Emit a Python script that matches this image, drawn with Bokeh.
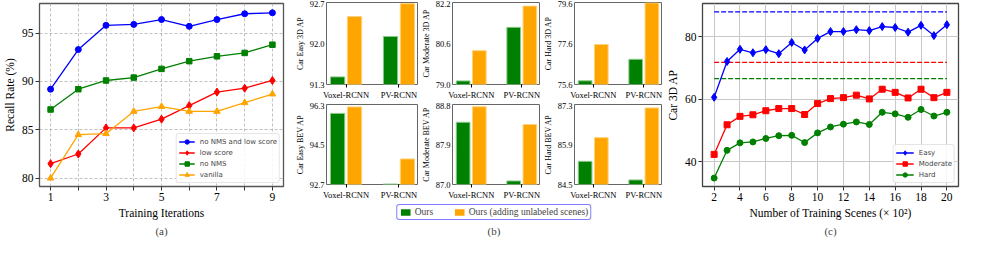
from bokeh.plotting import figure
from bokeh.layouts import row, column
from bokeh.models import (Range1d, FixedTicker, PrintfTickFormatter, ColumnDataSource,
                          Legend, LegendItem)
from bokeh.transform import dodge
from bokeh.embed import file_html
from bokeh.resources import INLINE

SERIF = "Liberation Serif"
SANS = "DejaVu Sans"
BLUE, RED, GREEN, ORANGE = "#0000ff", "#ff0000", "#008000", "#ffa500"
GREEN_EDGE, ORANGE_EDGE = "#8cc98c", "#ffd27a"

# ---------------- (a) recall rate vs training iterations ----------------
iterations = [1, 2, 3, 4, 5, 6, 7, 8, 9]
a_x_ticks = [1, 2, 3, 4, 5, 6, 7, 8, 9]
a_x_labels = ["1", "", "3", "", "5", "", "7", "", "9"]
a_y_ticks = [80, 85, 90, 95]
recall_nms_low = [89.2, 93.3, 95.8, 95.9, 96.4, 95.7, 96.4, 97.0, 97.1]
recall_low_score = [81.5, 82.5, 85.2, 85.2, 86.1, 87.5, 88.9, 89.3, 90.1]
recall_no_nms = [87.1, 89.2, 90.1, 90.4, 91.3, 92.1, 92.6, 92.95, 93.8]
recall_vanilla = [80.0, 84.5, 84.6, 86.9, 87.4, 86.9, 86.9, 87.8, 88.7]

# ---------------- (b) bar panels ----------------
models = ["Voxel-RCNN", "PV-RCNN"]
easy3d_ours, easy3d_unl = [91.43, 92.12], [92.46, 92.68]
mod3d_ours, mod3d_unl = [79.14, 81.23], [80.32, 82.06]
hard3d_ours, hard3d_unl = [75.78, 76.83], [77.55, 79.58]
easybev_ours, easybev_unl = [95.90, 92.72], [96.19, 93.85]
modbev_ours, modbev_unl = [88.40, 87.08], [88.75, 88.35]
hardbev_ours, hardbev_unl = [85.31, 84.66], [86.14, 87.18]
easy3d_ticks = [91.3, 92.0, 92.7]
mod3d_ticks = [79.0, 80.6, 82.2]
hard3d_ticks = [75.6, 77.6, 79.6]
easybev_ticks = [92.7, 94.5, 96.3]
modbev_ticks = [87.0, 87.9, 88.8]
hardbev_ticks = [84.5, 85.9, 87.3]
b_labels = ["Car Easy 3D AP", "Car Moderate 3D AP", "Car Hard 3D AP",
            "Car Easy BEV AP", "Car Moderate BEV AP", "Car Hard BEV AP"]
legend_b = ["Ours", "Ours (adding unlabeled scenes)"]

# ---------------- (c) AP vs number of training scenes ----------------
scenes = [2, 3, 4, 5, 6, 7, 8, 9, 10, 11, 12, 13, 14, 15, 16, 17, 18, 19, 20]
c_x_ticks = [2, 4, 6, 8, 10, 12, 14, 16, 18, 20]
c_y_ticks = [40, 60, 80]
ap_easy = [60.6, 72.1, 76.0, 74.9, 75.9, 74.6, 78.2, 75.8, 79.5, 81.7, 81.7, 82.3, 82.0,
           83.3, 83.0, 81.5, 83.7, 80.4, 83.9]
ap_moderate = [42.3, 51.8, 54.5, 55.0, 56.3, 57.0, 57.0, 55.1, 58.6, 60.2, 60.5, 61.3, 60.1,
               63.2, 62.2, 60.4, 63.2, 60.5, 62.2]
ap_hard = [34.7, 43.6, 46.0, 46.3, 47.4, 48.3, 48.4, 46.1, 49.2, 51.1, 52.0, 52.7, 51.9,
           55.8, 55.3, 54.2, 56.7, 54.6, 55.8]
full_easy, full_moderate, full_hard = 88.0, 71.8, 66.6


def style_axes(p, tick_size, label_size, tick_out=4):
    for ax in p.axis:
        ax.major_label_text_font = SERIF
        ax.major_label_text_font_size = tick_size
        ax.major_label_text_color = "black"
        ax.axis_label_text_font = SERIF
        ax.axis_label_text_font_size = label_size
        ax.axis_label_text_font_style = "normal"
        ax.axis_label_text_color = "black"
        ax.axis_line_color = None
        ax.major_tick_in = 0
        ax.major_tick_out = tick_out
        ax.major_tick_line_color = "#333333"
        ax.minor_tick_line_color = None
        ax.major_label_standoff = 2
        ax.axis_label_standoff = 3


def style_title(p, size="11px"):
    p.title.align = "center"
    p.title.text_font = SERIF
    p.title.text_font_size = size
    p.title.text_font_style = "normal"
    if "standoff" in p.title.properties():
        p.title.standoff = 2


def style_legend(leg, size="7px"):
    leg.label_text_font = SANS
    leg.label_text_font_size = size
    leg.glyph_width = 16
    leg.glyph_height = 11
    leg.label_height = 11
    leg.label_standoff = 5
    leg.spacing = 0
    leg.padding = 2
    leg.margin = 3
    leg.border_line_color = "#cccccc"
    leg.background_fill_alpha = 0.85
    if "border_radius" in leg.properties():
        leg.border_radius = 3


# ---------------- panel (a) ----------------
pa = figure(width=292, height=237, title="(a)", title_location="below",
            x_range=Range1d(0.6, 9.4), y_range=Range1d(79.14, 98.06),
            output_backend="svg", toolbar_location=None,
            min_border_left=36, min_border_right=9, min_border_top=3, min_border_bottom=49)
series_a = [(recall_nms_low, BLUE, "circle", 6, "no NMS and low score"),
            (recall_low_score, RED, "diamond", 8, "low score"),
            (recall_no_nms, GREEN, "square", 5.5, "no NMS"),
            (recall_vanilla, ORANGE, "triangle", 6.5, "vanilla")]
for ys, c, m, s, lab in series_a:
    pa.line(iterations, ys, line_color=c, line_width=1.3, legend_label=lab)
    pa.scatter(iterations, ys, marker=m, size=s, fill_color=c, line_color=c, legend_label=lab)
xt = FixedTicker(ticks=a_x_ticks)
pa.xaxis.ticker = xt
pa.xgrid[0].ticker = xt
pa.xaxis.major_label_overrides = {t: l for t, l in zip(a_x_ticks, a_x_labels)}
yt = FixedTicker(ticks=a_y_ticks)
pa.yaxis.ticker = yt
pa.ygrid[0].ticker = yt
pa.xaxis.axis_label = "Training Iterations"
pa.yaxis.axis_label = "Recall Rate (%)"
style_axes(pa, "11.5px", "11.5px")
style_title(pa)
pa.grid.grid_line_color = "#b0b0b0"
pa.grid.grid_line_dash = "3 2"
pa.grid.grid_line_width = 0.8
pa.outline_line_color = "#555555"
pa.outline_line_width = 1.3
style_legend(pa.legend[0])
pa.legend[0].location = "bottom_right"

# ---------------- panel (b) ----------------
b_widths = [126, 122, 122]
b_lefts = [34, 30, 30]
b_data = [(easy3d_ours, easy3d_unl, easy3d_ticks), (mod3d_ours, mod3d_unl, mod3d_ticks),
          (hard3d_ours, hard3d_unl, hard3d_ticks), (easybev_ours, easybev_unl, easybev_ticks),
          (modbev_ours, modbev_unl, modbev_ticks), (hardbev_ours, hardbev_unl, hardbev_ticks)]
xpos = list(range(len(models)))
b_figs = []
for i, (ours, unl, ticks) in enumerate(b_data):
    col, rw = i % 3, i // 3
    h = 102 if rw == 0 else 100
    bb = 18 if rw == 0 else 16
    p = figure(width=b_widths[col], height=h,
               x_range=Range1d(-0.37, 1.35), y_range=Range1d(ticks[0], ticks[-1]),
               output_backend="svg", toolbar_location=None,
               min_border_left=b_lefts[col], min_border_right=1, min_border_top=2,
               min_border_bottom=bb)
    src = ColumnDataSource(dict(x=xpos, ours=ours, unl=unl))
    p.vbar(x=dodge("x", -0.16), top="ours", bottom=0, width=0.27, source=src,
           fill_color=GREEN, line_color=GREEN_EDGE, line_width=1)
    p.vbar(x=dodge("x", 0.16), top="unl", bottom=0, width=0.27, source=src,
           fill_color=ORANGE, line_color=ORANGE_EDGE, line_width=1)
    p.xaxis.ticker = FixedTicker(ticks=xpos)
    p.xaxis.major_label_overrides = {k: m for k, m in zip(xpos, models)}
    p.yaxis.ticker = FixedTicker(ticks=ticks)
    p.yaxis.formatter = PrintfTickFormatter(format="%.1f")
    p.yaxis.axis_label = b_labels[i]
    style_axes(p, "8.5px", "8px", tick_out=3)
    p.yaxis.major_tick_out = 0
    p.xaxis.major_tick_line_color = "black"
    p.yaxis.axis_label_standoff = 2
    p.grid.visible = False
    p.outline_line_color = "#666666"
    p.outline_line_width = 1
    b_figs.append(p)

pl = figure(width=370, height=35, title="(b)", title_location="below",
            x_range=Range1d(0, 1), y_range=Range1d(0, 1),
            x_axis_type=None, y_axis_type=None,
            output_backend="svg", toolbar_location=None,
            min_border_left=34, min_border_right=1, min_border_top=0, min_border_bottom=0)
pl.grid.visible = False
pl.outline_line_color = None
leg_src = ColumnDataSource(dict(x=xpos, ours=easy3d_ours, unl=easy3d_unl))
r_ours = pl.vbar(x="x", top="ours", bottom="ours", width=0.0, source=leg_src,
                 fill_color=GREEN, line_color=GREEN_EDGE, line_alpha=0)
r_unl = pl.vbar(x="x", top="unl", bottom="unl", width=0.0, source=leg_src,
                fill_color=ORANGE, line_color=ORANGE_EDGE, line_alpha=0)
leg_b = Legend(items=[LegendItem(label=legend_b[0], renderers=[r_ours], index=0),
                      LegendItem(label=legend_b[1], renderers=[r_unl], index=0)],
               orientation="horizontal", location="center")
leg_b.label_text_font = SERIF
leg_b.label_text_font_size = "9.5px"
leg_b.glyph_width = 12
leg_b.glyph_height = 8
leg_b.label_height = 9
leg_b.label_standoff = 4
leg_b.spacing = 18
leg_b.padding = 2
leg_b.margin = 0
leg_b.border_line_color = BLUE
leg_b.border_line_width = 1
if "border_radius" in leg_b.properties():
    leg_b.border_radius = 3
pl.add_layout(leg_b, "center")
style_title(pl)

panel_b = column(row(*b_figs[:3]), row(*b_figs[3:]), pl)

# ---------------- panel (c) ----------------
pc = figure(width=303, height=237, title="(c)", title_location="below",
            x_range=Range1d(1.1, 20.9), y_range=Range1d(32.0, 90.7),
            output_backend="svg", toolbar_location=None,
            min_border_left=40, min_border_right=7, min_border_top=3, min_border_bottom=49)
for full, c in [(full_easy, BLUE), (full_moderate, RED), (full_hard, GREEN)]:
    pc.segment(x0=[scenes[0]], y0=[full], x1=[scenes[-1]], y1=[full],
               line_color=c, line_width=1.3, line_dash="5 2")
series_c = [(ap_easy, BLUE, "diamond", 8, "Easy"),
            (ap_moderate, RED, "square", 6, "Moderate"),
            (ap_hard, GREEN, "circle", 6, "Hard")]
for ys, c, m, s, lab in series_c:
    pc.line(scenes, ys, line_color=c, line_width=1.3, legend_label=lab)
    pc.scatter(scenes, ys, marker=m, size=s, fill_color=c, line_color=c, legend_label=lab)
cxt = FixedTicker(ticks=c_x_ticks)
pc.xaxis.ticker = cxt
pc.xgrid[0].ticker = cxt
cyt = FixedTicker(ticks=c_y_ticks)
pc.yaxis.ticker = cyt
pc.ygrid[0].ticker = cyt
pc.xaxis.axis_label = "Number of Training Scenes (\u00d7 10\u00b2)"
pc.yaxis.axis_label = "Car 3D AP"
style_axes(pc, "11.5px", "11.5px")
style_title(pc)
pc.grid.grid_line_color = "#c8c8c8"
pc.grid.grid_line_width = 1
pc.outline_line_color = "#444444"
pc.outline_line_width = 1.3
style_legend(pc.legend[0])
pc.legend[0].glyph_width = 18
pc.legend[0].location = "bottom_right"

layout = row(pa, panel_b, pc)
open("out.html", "w").write(file_html(layout, INLINE))
